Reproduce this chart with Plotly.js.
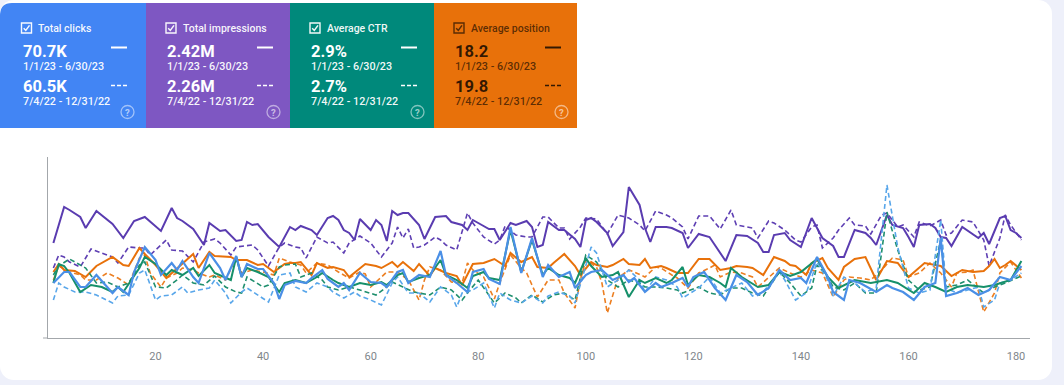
<!DOCTYPE html>
<html>
<head>
<meta charset="utf-8">
<script src="https://cdn.plot.ly/plotly-3.0.1.min.js"></script>
<style>
  html, body { margin: 0; padding: 0; background: #eef0fa; }
  #chart { position: absolute; left: 0; top: 0; width: 1052px; height: 380px;
           background: #ffffff; border-radius: 14px; overflow: hidden; }
</style>
</head>
<body>
<div id="chart"></div>
<script>
// ---- Daily series (relative height on a shared, unlabelled axis) ----
// Total clicks, current period (solid) and previous period (dashed)
const clicksCurDays = [1,3,4,6,7,9,11,12,13,15,16,18,20,21,23,24,25,27,28,30,32,33,35,36,37,39,40,42,43,44,46,48,49,51,52,54,55,56,58,60,62,63,65,66,67,69,71,73,74,76,78,79,81,82,84,86,88,90,92,93,95,97,98,100,101,103,105,107,108,109,111,113,114,116,118,119,120,122,124,126,128,130,132,134,136,138,140,141,143,145,146,148,149,151,154,156,157,159,161,163,165,166,167,169,171,173,175,177,179,181];
const clicksCurVals = [55,66,66,51,51,63,51,45,51,43,66,91,78,63,75,68,77,61,55,85,70,58,82,61,74,69,69,55,39,53,57,55,60,68,59,51,55,48,65,56,55,51,66,68,55,63,61,87,63,55,46,66,69,59,54,111,65,100,61,73,61,66,50,63,66,68,58,63,56,60,46,55,51,55,60,51,61,66,50,38,63,56,43,50,68,58,60,55,81,61,46,38,58,55,46,53,50,46,38,51,55,100,42,45,50,43,48,61,58,72];
const clicksPrevDays = [1,2,3,5,7,9,12,13,15,17,18,20,21,23,25,26,28,30,31,33,34,36,37,39,41,43,45,46,48,50,52,53,55,57,58,60,62,64,65,67,69,71,73,75,76,77,79,81,83,84,86,88,90,92,93,95,97,98,101,102,104,106,108,110,111,113,115,117,118,121,123,125,127,129,131,133,136,137,139,141,143,145,146,148,150,152,154,156,158,160,162,164,166,167,169,171,173,174,176,177,179,181];
const clicksPrevVals = [38,55,51,46,46,43,35,42,43,65,68,38,42,43,51,45,48,50,58,45,35,46,50,43,36,63,65,51,46,55,51,46,40,46,42,38,33,55,61,45,45,36,51,43,31,45,48,55,30,45,38,35,42,35,42,46,42,35,91,85,51,58,68,58,46,61,58,51,40,50,61,45,50,55,42,46,66,58,38,45,76,58,42,61,55,46,50,153,91,50,45,48,118,50,45,48,51,31,38,55,58,65];

// Total impressions
const imprCurDays = [1,3,4,6,7,9,12,14,16,18,21,23,24,25,27,29,30,32,33,35,36,37,38,39,41,43,45,46,47,49,50,52,53,54,55,56,57,58,60,61,62,63,64,65,66,67,69,70,72,74,75,77,78,79,80,82,83,84,86,87,89,90,91,92,93,95,96,98,99,100,101,102,104,105,107,108,110,111,112,113,115,116,118,119,121,123,126,128,130,132,133,134,135,137,138,140,142,144,146,147,148,150,152,153,154,156,157,159,160,161,162,164,165,166,167,168,170,172,173,174,175,177,178,179,180,181];
const imprCurVals = [95,131,128,121,110,127,114,100,117,121,107,130,120,117,109,93,115,107,108,97,98,116,113,114,101,91,111,108,112,108,103,120,122,118,108,105,98,119,108,118,113,97,127,123,125,125,113,99,121,122,116,113,108,118,115,109,109,98,115,113,117,111,91,93,116,108,108,99,91,118,120,116,105,92,106,151,133,110,96,111,111,110,105,90,104,101,77,103,102,95,86,86,103,105,98,91,120,100,92,81,81,108,105,100,93,123,113,110,101,91,113,114,110,101,100,92,111,104,100,105,94,120,122,108,105,100];
const imprPrevDays = [1,2,3,4,6,8,10,12,13,15,17,18,19,22,23,25,27,29,31,32,34,35,38,39,41,43,44,46,47,48,50,52,53,55,56,58,60,62,64,65,66,67,68,69,70,72,73,74,76,77,78,79,81,83,84,85,87,89,90,92,93,95,96,97,99,100,102,104,106,108,110,111,113,115,116,118,119,121,123,125,127,128,131,132,134,135,137,139,140,142,143,144,146,147,149,150,152,153,155,156,158,159,161,162,164,166,167,168,170,172,174,175,177,178,179,181];
const imprPrevVals = [70,83,81,76,71,89,85,81,75,91,90,90,83,98,88,87,76,96,99,95,83,91,93,88,72,91,95,91,90,80,101,95,96,85,95,102,95,81,95,111,100,109,90,91,93,101,98,93,88,106,125,115,101,94,98,112,103,101,101,121,121,110,110,99,111,120,119,104,123,120,113,107,127,123,120,111,99,122,122,109,128,113,110,100,117,115,108,98,96,111,113,90,100,108,120,113,112,104,123,125,111,113,101,116,112,118,103,105,118,116,98,72,100,123,113,98];

// Average CTR
const ctrCurDays = [1,2,3,4,6,8,10,12,13,14,17,18,20,22,23,25,27,28,30,31,34,35,36,37,39,41,43,44,46,48,50,51,53,54,56,58,60,62,63,65,66,67,69,71,73,74,76,78,79,81,82,84,86,88,90,92,93,95,97,98,100,101,103,105,106,108,110,111,113,115,116,118,119,121,123,125,126,127,129,132,134,136,138,140,143,145,147,149,150,153,156,158,161,163,165,167,169,171,174,176,179,181];
const ctrCurVals = [55,74,72,65,46,53,51,46,51,46,70,81,74,63,68,63,70,62,73,65,58,81,61,70,66,61,46,55,58,55,61,65,58,55,51,55,53,56,53,63,65,56,60,63,78,63,58,50,62,66,60,58,108,66,98,63,70,63,60,55,80,72,61,63,66,41,58,55,60,55,58,71,53,63,61,55,51,70,61,51,53,66,62,66,79,61,50,55,58,55,58,55,45,55,51,46,51,53,51,53,58,77];
const ctrPrevDays = [1,2,4,6,7,9,11,13,15,17,18,20,22,24,25,27,29,31,33,35,36,37,40,41,43,44,46,47,49,51,52,54,56,58,61,63,64,66,68,71,73,75,77,78,80,83,85,87,88,90,92,94,96,98,100,102,104,106,108,110,111,113,115,117,118,121,123,125,127,129,131,133,136,138,140,142,143,145,146,148,150,152,154,156,158,160,162,164,166,167,169,171,174,176,178,181];
const ctrPrevVals = [63,72,79,73,70,55,56,51,55,73,76,51,50,58,63,55,53,62,51,46,45,61,51,53,71,73,74,61,65,58,51,48,51,48,43,51,56,51,46,43,51,48,38,45,58,35,45,40,35,43,36,43,45,38,83,76,58,51,58,55,51,51,50,48,45,51,45,43,50,50,45,42,66,55,42,50,73,61,51,48,55,45,45,126,88,58,48,51,98,51,53,58,45,51,55,62];

// Average position
const posCurDays = [1,2,3,5,7,9,12,14,15,17,18,20,22,24,25,27,28,30,31,34,35,37,39,40,41,42,44,45,46,47,49,50,52,53,55,56,59,61,62,64,65,66,68,69,71,72,74,76,77,79,81,83,85,86,88,90,91,93,94,96,98,99,101,102,104,105,107,108,110,111,112,114,115,117,119,121,123,125,127,128,130,131,133,135,137,138,139,141,142,144,145,147,148,150,152,153,154,156,158,160,162,163,165,166,168,170,172,174,175,176,177,178,179,181];
const posCurVals = [66,74,68,67,61,72,81,73,72,90,84,73,60,70,74,84,70,86,82,81,78,78,73,74,70,66,74,75,75,76,63,75,70,71,68,61,74,72,70,76,71,76,67,74,62,70,65,62,53,74,75,79,72,85,76,81,71,70,75,84,72,63,76,73,71,73,79,74,73,79,70,72,70,65,65,79,79,68,70,72,71,70,63,81,77,73,72,63,75,80,70,58,71,79,81,69,58,77,75,61,70,75,73,72,62,68,66,67,72,79,70,73,77,68];
const posPrevDays = [1,2,4,6,7,9,11,13,15,17,18,19,21,22,24,25,27,28,30,31,33,35,36,38,40,42,43,45,47,48,50,52,54,56,58,59,60,63,65,67,69,70,71,73,75,77,78,79,81,83,84,86,88,89,91,93,95,96,98,99,100,102,103,104,106,108,109,111,113,114,116,117,119,121,123,124,125,127,129,131,132,134,136,138,140,142,144,146,148,149,151,153,155,157,159,160,162,164,166,168,169,171,172,174,176,177,179,181];
const posPrevVals = [58,72,66,63,58,58,65,60,53,80,83,65,51,60,65,70,68,65,61,63,58,80,65,68,66,63,80,76,73,65,75,73,66,60,66,64,51,66,66,58,38,58,71,68,56,55,75,68,61,39,55,83,70,65,41,58,58,45,30,58,78,71,55,25,60,68,66,61,71,70,63,60,50,65,70,73,61,66,65,61,51,61,70,65,61,68,65,41,58,61,60,58,68,80,78,61,65,75,65,51,65,66,68,26,45,65,76,60];

// x-axis ticks
const tickDays = [20,40,60,80,100,120,140,160,180];
const tickLabels = ["20","40","60","80","100","120","140","160","180"];

// ---- Summary cards ----
const metricNames = ["Total clicks","Total impressions","Average CTR","Average position"];
const currentTotals = ["70.7K","2.42M","2.9%","18.2"];
const previousTotals = ["60.5K","2.26M","2.7%","19.8"];
const currentRange = "1/1/23 - 6/30/23";
const previousRange = "7/4/22 - 12/31/22";
const cardColors = ["#4285f4","#7e57c2","#00897b","#e8710a"];
const cardInk = ["#ffffff","#ffffff","#ffffff","rgba(0,0,0,0.78)"];
const cardInkSoft = ["rgba(255,255,255,0.95)","rgba(255,255,255,0.95)","rgba(255,255,255,0.95)","rgba(0,0,0,0.62)"];

// ---- Geometry helpers (pixel -> paper) ----
const W = 1052, H = 380, ML = 48, MR = 22, MT = 157, MB = 42;
const PW = W - ML - MR, PH = H - MT - MB;
const fx = px => (px - ML) / PW;
const fy = py => (H - MB - py) / PH;
const P = (px, py) => fx(px) + "," + fy(py);

const FONT = "Roboto, 'Open Sans', Arial, sans-serif";

const shapes = [];
const annotations = [];

// short axis overhang to the left of the y axis
shapes.push({type:"line", xref:"paper", yref:"paper", x0:fx(43), x1:fx(48), y0:0, y1:0,
             line:{color:"#a3a7ab", width:1}});

const cardLeft = [0, 146, 290, 434];
const cardRight = [146, 290, 434, 577];
const cardTop = 3, cardBottom = 128;

cardLeft.forEach((l, i) => {
  const r = cardRight[i];
  if (i === 0) {
    shapes.push({type:"path", xref:"paper", yref:"paper", layer:"below",
      path:"M" + P(l, cardBottom) + " L" + P(l, cardTop + 12) + " Q" + P(l, cardTop) + " " + P(l + 12, cardTop) +
           " L" + P(r, cardTop) + " L" + P(r, cardBottom) + " Z",
      fillcolor:cardColors[i], line:{width:0}});
  } else {
    shapes.push({type:"rect", xref:"paper", yref:"paper", layer:"below",
      x0:fx(l), x1:fx(r), y0:fy(cardBottom), y1:fy(cardTop),
      fillcolor:cardColors[i], line:{width:0}});
  }
  const cx = l + (i === 0 ? 21.5 : 20);
  const ink = cardInk[i], soft = cardInkSoft[i];

  // checkbox
  shapes.push({type:"rect", xref:"paper", yref:"paper",
    x0:fx(cx), x1:fx(cx + 10), y0:fy(33), y1:fy(23),
    line:{color:soft, width:1.4}, fillcolor:"rgba(0,0,0,0)"});
  shapes.push({type:"path", xref:"paper", yref:"paper",
    path:"M" + P(cx + 2.2, 28.2) + " L" + P(cx + 4.3, 30.4) + " L" + P(cx + 8, 25.4),
    line:{color:soft, width:1.5}});

  annotations.push({xref:"paper", yref:"paper", x:fx(cx + 14.5), y:fy(28), xanchor:"left", yanchor:"middle",
    text:metricNames[i], showarrow:false, font:{family:FONT, size:10.5, color:soft, weight:500}});
  annotations.push({xref:"paper", yref:"paper", x:fx(cx - 1), y:fy(51.5), xanchor:"left", yanchor:"middle",
    text:currentTotals[i], showarrow:false, font:{family:FONT, size:16.5, color:ink, weight:700}});
  annotations.push({xref:"paper", yref:"paper", x:fx(cx - 1), y:fy(66.5), xanchor:"left", yanchor:"middle",
    text:currentRange, showarrow:false, font:{family:FONT, size:10.8, color:soft, weight:500}});
  annotations.push({xref:"paper", yref:"paper", x:fx(cx - 1), y:fy(86.5), xanchor:"left", yanchor:"middle",
    text:previousTotals[i], showarrow:false, font:{family:FONT, size:16.5, color:ink, weight:700}});
  annotations.push({xref:"paper", yref:"paper", x:fx(cx - 1), y:fy(101.5), xanchor:"left", yanchor:"middle",
    text:previousRange, showarrow:false, font:{family:FONT, size:10.8, color:soft, weight:500}});

  // line-style keys
  shapes.push({type:"line", xref:"paper", yref:"paper", x0:fx(l + 111), x1:fx(l + 127), y0:fy(47.5), y1:fy(47.5),
    line:{color:ink, width:2}});
  shapes.push({type:"line", xref:"paper", yref:"paper", x0:fx(l + 111), x1:fx(l + 127), y0:fy(85.5), y1:fy(85.5),
    line:{color:ink, width:1.6, dash:"4px,2px"}});

  // help icon
  const hx = l + 127.5, hy = 112, hr = 6.5;
  shapes.push({type:"circle", xref:"paper", yref:"paper",
    x0:fx(hx - hr), x1:fx(hx + hr), y0:fy(hy + hr), y1:fy(hy - hr),
    line:{color:"rgba(255,255,255,0.5)", width:1.3}});
  annotations.push({xref:"paper", yref:"paper", x:fx(hx), y:fy(hy), xanchor:"center", yanchor:"middle",
    text:"?", showarrow:false, font:{family:FONT, size:9.5, color:"rgba(255,255,255,0.6)", weight:700}});
});

// ---- Line traces ----
function series(days, vals, color, dashed, width) {
  return {type:"scatter", mode:"lines", x:days, y:vals, hoverinfo:"skip",
          line:{color:color, width:width, dash:dashed ? "5px,3px" : "solid", shape:"linear"}};
}
const traces = [
  series(imprPrevDays, imprPrevVals, "#5e3fb3", true, 1.6),
  series(imprCurDays, imprCurVals, "#5a3cb0", false, 2),
  series(posPrevDays, posPrevVals, "#ec7f22", true, 1.6),
  series(posCurDays, posCurVals, "#e8710a", false, 2),
  series(ctrPrevDays, ctrPrevVals, "#1f8f6e", true, 1.6),
  series(clicksPrevDays, clicksPrevVals, "#58a6ea", true, 1.6),
  series(ctrCurDays, ctrCurVals, "#16906a", false, 2),
  series(clicksCurDays, clicksCurVals, "#4a8fe6", false, 2.2)
];

const layout = {
  width: W, height: H,
  margin: {l: ML, r: MR, t: MT, b: MB, pad: 0},
  paper_bgcolor: "rgba(0,0,0,0)",
  plot_bgcolor: "rgba(0,0,0,0)",
  showlegend: false,
  font: {family: FONT},
  xaxis: {range: [0, 182.6], tickvals: tickDays, ticktext: tickLabels,
          showgrid: false, zeroline: false, showline: true, linecolor: "#a3a7ab", linewidth: 1,
          ticks: "", ticklen: 0, ticklabelstandoff: 8,
          tickfont: {family: FONT, size: 11, color: "#80868b"}, fixedrange: true},
  yaxis: {range: [0, 181], showticklabels: false, showgrid: false, zeroline: false,
          showline: true, linecolor: "#a3a7ab", linewidth: 1, ticks: "", fixedrange: true},
  shapes: shapes,
  annotations: annotations
};

Plotly.newPlot("chart", traces, layout, {displayModeBar: false, staticPlot: true});
</script>
</body>
</html>
